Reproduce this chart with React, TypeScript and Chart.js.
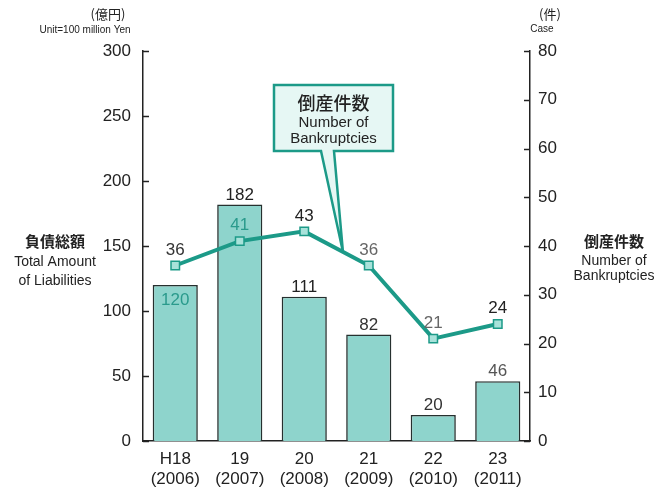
import React, { useEffect, useRef } from "react";
import { Chart, registerables } from "chart.js";

Chart.register(...registerables);

const categories: string[][] = [
  ["H18", "(2006)"],
  ["19", "(2007)"],
  ["20", "(2008)"],
  ["21", "(2009)"],
  ["22", "(2010)"],
  ["23", "(2011)"],
];
const liabilities: number[] = [120, 182, 111, 82, 20, 46];
const bankruptcies: number[] = [36, 41, 43, 36, 21, 24];
const leftTicks: number[] = [0, 50, 100, 150, 200, 250, 300];
const rightTicks: number[] = [0, 10, 20, 30, 40, 50, 60, 70, 80];

// label styles (inside = drawn inside bar top)
const barLabelInside: boolean[] = [true, false, false, false, false, false];
const barLabelColor: string[] = ["#2a9a8c", "#222", "#222", "#333", "#333", "#555"];
const lineLabelColor: string[] = ["#333", "#2a9a8c", "#222", "#666", "#666", "#222"];

const TEAL = "#1c9a88";
const BAR_FILL = "#8ed4cc";
const FONT = "'Liberation Sans', Arial, sans-serif";
const CJK = "'Noto Sans CJK JP', sans-serif";

const overlayPlugin = {
  id: "overlay",
  afterDatasetsDraw(chart: any) {
    const ctx = chart.ctx as CanvasRenderingContext2D;
    const ca = chart.chartArea;
    const yL = chart.scales.y;
    const yR = chart.scales.y1;
    ctx.save();
    // inward ticks
    ctx.strokeStyle = "#222";
    ctx.lineWidth = 1.5;
    leftTicks.forEach((v) => {
      const y = Math.round(yL.getPixelForValue(v)) + 0.5;
      ctx.beginPath();
      ctx.moveTo(ca.left, y);
      ctx.lineTo(ca.left + 6, y);
      ctx.stroke();
    });
    rightTicks.forEach((v) => {
      const y = Math.round(yR.getPixelForValue(v)) + 0.5;
      ctx.beginPath();
      ctx.moveTo(ca.right, y);
      ctx.lineTo(ca.right - 6, y);
      ctx.stroke();
    });

    // bar labels
    const barMeta = chart.getDatasetMeta(0);
    ctx.font = `17px ${FONT}`;
    ctx.textAlign = "center";
    barMeta.data.forEach((el: any, i: number) => {
      ctx.fillStyle = barLabelColor[i];
      if (barLabelInside[i]) {
        ctx.textBaseline = "top";
        ctx.fillText(String(liabilities[i]), el.x, el.y + 7);
      } else {
        ctx.textBaseline = "bottom";
        ctx.fillText(String(liabilities[i]), el.x, el.y - 1);
      }
    });
    // line labels
    const lineMeta = chart.getDatasetMeta(1);
    lineMeta.data.forEach((el: any, i: number) => {
      ctx.fillStyle = lineLabelColor[i];
      ctx.textBaseline = "bottom";
      ctx.fillText(String(bankruptcies[i]), el.x, el.y - 7);
    });

    // callout
    const p2 = lineMeta.data[2];
    const p3 = lineMeta.data[3];
    const t = 0.6;
    const tipX = p2.x + (p3.x - p2.x) * t;
    const tipY = p2.y + (p3.y - p2.y) * t;
    const bx = ca.left + 131;
    const by = ca.top + 34;
    const bw = 119;
    const bh = 66;
    ctx.beginPath();
    ctx.moveTo(bx, by);
    ctx.lineTo(bx + bw, by);
    ctx.lineTo(bx + bw, by + bh);
    ctx.lineTo(bx + 60, by + bh);
    ctx.lineTo(tipX, tipY);
    ctx.lineTo(bx + 47, by + bh);
    ctx.lineTo(bx, by + bh);
    ctx.closePath();
    ctx.fillStyle = "#e6f7f4";
    ctx.fill();
    ctx.strokeStyle = TEAL;
    ctx.lineWidth = 2.5;
    ctx.lineJoin = "miter";
    ctx.stroke();
    ctx.fillStyle = "#222";
    ctx.textBaseline = "middle";
    ctx.textAlign = "center";
    const cx = bx + bw / 2;
    ctx.font = `500 18px ${CJK}`;
    ctx.fillText("倒産件数", cx, by + 18);
    ctx.font = `15px ${FONT}`;
    ctx.fillText("Number of", cx, by + 38);
    ctx.fillText("Bankruptcies", cx, by + 54);

    // axis titles
    ctx.fillStyle = "#222";
    ctx.font = `bold 15px ${CJK}`;
    ctx.fillText("負債総額", 55, 241);
    ctx.font = `14px ${FONT}`;
    ctx.fillText("Total Amount", 55, 262);
    ctx.fillText("of Liabilities", 55, 281);

    ctx.font = `bold 15px ${CJK}`;
    ctx.fillText("倒産件数", 614, 241);
    ctx.font = `14px ${FONT}`;
    ctx.fillText("Number of", 614, 261);
    ctx.fillText("Bankruptcies", 614, 276);

    // units
    ctx.font = `13px ${CJK}`;
    ctx.fillText("(億円)", 108, 14);
    ctx.font = `10px ${FONT}`;
    ctx.fillText("Unit=100 million Yen", 85, 30);
    ctx.font = `13px ${CJK}`;
    ctx.fillText("(件)", 550, 14);
    ctx.font = `10px ${FONT}`;
    ctx.fillText("Case", 542, 29);
    ctx.restore();
  },
};

export default function App() {
  const ref = useRef<HTMLCanvasElement | null>(null);
  useEffect(() => {
    if (!ref.current) return;
    const chart = new Chart(ref.current, {
      type: "bar",
      data: {
        labels: categories,
        datasets: [
          {
            type: "bar",
            data: liabilities,
            backgroundColor: BAR_FILL,
            borderColor: "#26302f",
            borderWidth: 1.6,
            barPercentage: 0.7,
            categoryPercentage: 1,
            yAxisID: "y",
            order: 2,
          },
          {
            type: "line",
            data: bankruptcies,
            borderColor: TEAL,
            borderWidth: 4,
            pointStyle: "rect",
            pointRadius: 6,
            pointBackgroundColor: "#a8e2da",
            pointBorderColor: TEAL,
            pointBorderWidth: 1.5,
            yAxisID: "y1",
            order: 1,
          } as any,
        ],
      },
      options: {
        animation: false,
        responsive: true,
        maintainAspectRatio: false,
        layout: { padding: { top: 51, left: 0, right: 0, bottom: 0 } },
        plugins: { legend: { display: false }, tooltip: { enabled: false } },
        scales: {
          x: {
            grid: { display: false, drawTicks: false },
            border: { display: true, color: "#222", width: 1.5 },
            ticks: {
              color: "#222",
              font: { family: FONT, size: 17 },
              padding: 8,
              maxRotation: 0,
            },
            afterFit: (s: any) => {
              s.height = 49;
            },
          },
          y: {
            position: "left",
            min: 0,
            max: 300,
            afterBuildTicks: (s: any) => {
              s.ticks = leftTicks.map((v) => ({ value: v }));
            },
            grid: { display: false, drawTicks: false },
            border: { display: true, color: "#222", width: 1.5 },
            ticks: {
              color: "#222",
              font: { family: FONT, size: 17 },
              padding: 12,
            },
            afterFit: (s: any) => {
              s.width = 143;
            },
          },
          y1: {
            position: "right",
            min: 0,
            max: 80,
            afterBuildTicks: (s: any) => {
              s.ticks = rightTicks.map((v) => ({ value: v }));
            },
            grid: { display: false, drawTicks: false },
            border: { display: true, color: "#222", width: 1.5 },
            ticks: {
              color: "#222",
              font: { family: FONT, size: 17 },
              padding: 8,
            },
            afterFit: (s: any) => {
              s.width = 127;
            },
          },
        },
      },
      plugins: [overlayPlugin],
    });
    return () => chart.destroy();
  }, []);
  return (
    <div style={{ position: "fixed", left: 0, top: 0, width: 657, height: 490, background: "#fff" }}>
      <canvas ref={ref} />
    </div>
  );
}
